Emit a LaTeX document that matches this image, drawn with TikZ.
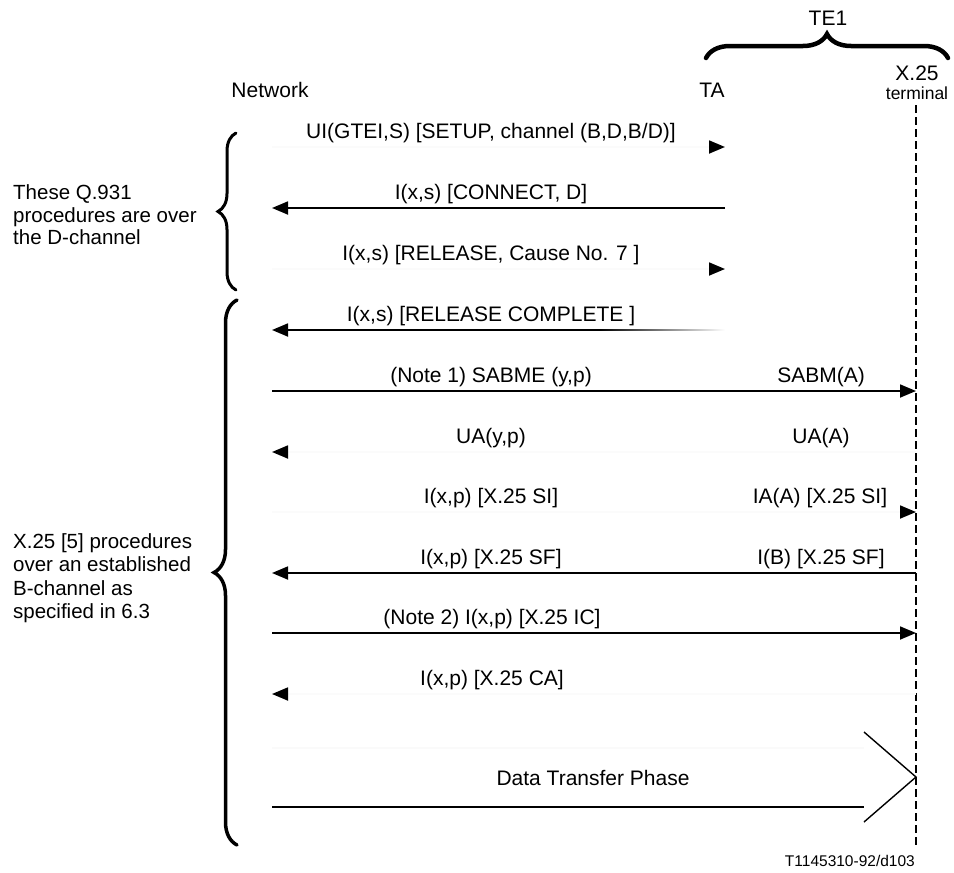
\documentclass[tikz,border=0pt]{standalone}
\usepackage{fontspec}
\setmainfont{Liberation Sans}
\usetikzlibrary{arrows.meta,decorations.pathreplacing}
\begin{document}
\begin{tikzpicture}[x=1pt,y=-1pt,
  lbl/.style={font=\fontsize{21}{24}\selectfont, inner sep=0pt, anchor=base},
  msg/.style={line width=1.8pt, -{Triangle[length=16pt,width=13pt]}},
  ghost/.style={line width=1.8pt, draw=black!1.5,
    -{Triangle[length=16pt,width=13pt,color=black,fill=black]}},
  life/.style={line width=1.3pt, dash pattern=on 8pt off 4pt},
  bbrace/.style={decorate, decoration={brace, amplitude=#1}, line cap=round},
  side/.style={align=left, anchor=west, inner sep=0pt},
]
\useasboundingbox (0,0) rectangle (954,873);

% lifeline positions for each message row
\foreach \k/\y in {1/147,2/208,3/269,4/330,5/391,6/452,7/512,8/573,9/633,10/694}{
  \coordinate (nw\k) at (272,\y);
  \coordinate (ta\k) at (725,\y);
  \coordinate (te\k) at (916,\y);
}

% headings
\node[lbl] (hnw) at (270,97) {Network};
\node[lbl] (hta) at (712,97) {TA};
\node[lbl] (hx) at (917,80) {X.25};
\node[lbl, font=\fontsize{17.5}{20}\selectfont] (hterm) at (917,99) {terminal};
\node[lbl] (hte) at (828,25) {TE1};
\coordinate (teL) at (706,58);
\coordinate (teR) at (948,58);
\draw[bbrace=24pt, line width=4.5pt] (teL) -- (teR);

% X.25 terminal lifeline
\coordinate (teTop) at (916,105);
\coordinate (teBot) at (916,845);
\draw[life] (teTop) -- (teBot);

% D-channel messages
\node[lbl] (m1) at (491,138) {UI(GTEI,S) [SETUP, channel (B,D,B/D)]};
\draw[ghost] (nw1) -- (ta1);
\node[lbl] (m2) at (491,199) {I(x,s) [CONNECT, D]};
\draw[msg] (ta2) -- (nw2);
\node[lbl] (m3) at (491,260) {I(x,s) [RELEASE, Cause No. 7 ]};
\draw[ghost] (nw3) -- (ta3);
\node[lbl] (m4) at (491,321) {I(x,s) [RELEASE COMPLETE ]};
\coordinate (fd4) at (600,330);
\draw[msg] (fd4) -- (nw4);
\shade[left color=black, right color=white] ([yshift=-0.9pt]fd4) rectangle ([yshift=0.9pt]ta4);

% B-channel messages
\node[lbl] (m5) at (491,382) {(Note 1) SABME (y,p)};
\node[lbl] (m5b) at (821,382) {SABM(A)};
\draw[msg] (nw5) -- (te5);
\node[lbl] (m6) at (491,443) {UA(y,p)};
\node[lbl] (m6b) at (821,443) {UA(A)};
\draw[ghost] (te6) -- (nw6);
\node[lbl] (m7) at (491,503) {I(x,p) [X.25 SI]};
\node[lbl] (m7b) at (820,503) {IA(A) [X.25 SI]};
\draw[ghost] (nw7) -- (te7);
\node[lbl] (m8) at (491,564) {I(x,p) [X.25 SF]};
\node[lbl] (m8b) at (821,564) {I(B) [X.25 SF]};
\draw[msg] (te8) -- (nw8);
\node[lbl] (m9) at (492,624) {(Note 2) I(x,p) [X.25 IC]};
\draw[msg] (nw9) -- (te9);
\node[lbl] (m10) at (492,685) {I(x,p) [X.25 CA]};
\draw[ghost] (te10) -- (nw10);

% data transfer phase
\coordinate (dtTL) at (272,748);
\coordinate (dtTR) at (864,748);
\coordinate (dtBL) at (272,807);
\coordinate (dtBR) at (864,807);
\coordinate (chA) at (864,732);
\coordinate (chTip) at (916,777);
\coordinate (chB) at (864,822);
\draw[line width=1.5pt, black!2] (dtTL) -- (dtTR);
\draw[line width=2pt] (dtBL) -- (dtBR);
\draw[line width=1.4pt] (chA) -- (chTip) -- (chB);
\node[lbl] (dt) at (593,785) {Data Transfer Phase};

% side notes with braces
\node[side, font=\fontsize{20.5}{22.5}\selectfont] (dnote) at (13,215)
  {These Q.931\\procedures are over\\the D-channel};
\coordinate (b1a) at (236,290);
\coordinate (b1b) at (236,133);
\draw[bbrace=18pt, line width=3pt] (b1a) -- (b1b);

\node[side, font=\fontsize{20.5}{23.5}\selectfont] (bnote) at (13,578)
  {X.25 [5] procedures\\over an established\\B-channel as\\specified in 6.3};
\coordinate (b2a) at (237,845);
\coordinate (b2b) at (237,300);
\draw[bbrace=23pt, line width=3.5pt] (b2a) -- (b2b);

\node[lbl, font=\fontsize{15.5}{18}\selectfont, anchor=base east] (fig) at (915,866) {T1145310-92/d103};
\end{tikzpicture}
\end{document}
